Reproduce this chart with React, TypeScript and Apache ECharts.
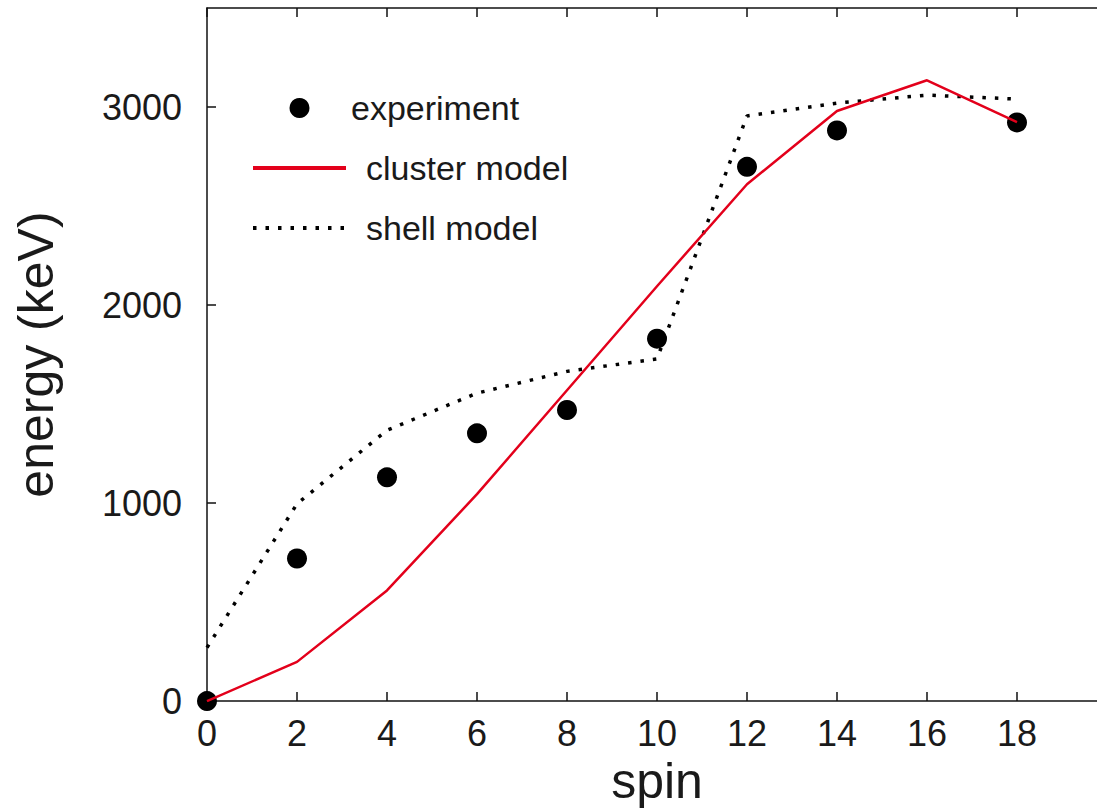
import React, { useEffect, useRef } from "react";
import * as echarts from "echarts";

const spins = [0, 2, 4, 6, 8, 10, 12, 14, 16, 18];
const expSpins = [0, 2, 4, 6, 8, 10, 12, 14, 18];
const expEnergy = [0, 720, 1130, 1352, 1470, 1830, 2698, 2882, 2922];
const clusterEnergy = [0, 198, 559, 1045, 1570, 2095, 2610, 2980, 3135, 2924];
const shellEnergy = [270, 996, 1368, 1555, 1665, 1728, 2955, 3020, 3060, 3040];

const FONT = "'Liberation Sans', Arial, Helvetica, sans-serif";
const TXT = "#1a1a1a";

export default function App() {
  const ref = useRef<HTMLDivElement>(null);
  useEffect(() => {
    if (!ref.current) return;
    const chart = echarts.init(ref.current, undefined, { renderer: "svg" });
    const axisLine = { show: true, onZero: false, lineStyle: { color: "#111", width: 1.5 } };
    const axisTick = { show: true, inside: true, length: 9, lineStyle: { color: "#111", width: 1.5 } };
    chart.setOption({
      animation: false,
      backgroundColor: "#fff",
      textStyle: { fontFamily: FONT },
      grid: { left: 207, top: 8, right: 13, bottom: 108, containLabel: false },
      legend: {
        left: 246,
        top: 86,
        orient: "vertical",
        itemWidth: 93,
        itemHeight: 20,
        itemGap: 26,
        textStyle: { fontFamily: FONT, fontSize: 34, color: TXT },
        data: [
          { name: "experiment" },
          {
            name: "cluster model",
            itemStyle: { opacity: 0 },
            lineStyle: { width: 4 },
            textStyle: { padding: [0, 0, 0, 15] },
          },
          {
            name: "shell model",
            itemStyle: { opacity: 0 },
            lineStyle: { width: 4 },
            textStyle: { padding: [0, 0, 0, 15] },
          },
        ],
      },
      xAxis: [
        {
          type: "value",
          min: 0,
          max: 20,
          interval: 2,
          name: "spin",
          nameLocation: "middle",
          nameGap: 52,
          nameTextStyle: { fontFamily: FONT, fontSize: 50, color: TXT },
          axisLine,
          axisTick,
          splitLine: { show: false },
          axisLabel: { fontFamily: FONT, fontSize: 36, color: TXT, margin: 14, showMaxLabel: false },
        },
        {
          type: "value",
          position: "top",
          min: 0,
          max: 20,
          interval: 2,
          axisLine,
          axisTick,
          splitLine: { show: false },
          axisLabel: { show: false },
        },
      ],
      yAxis: [
        {
          type: "value",
          min: 0,
          max: 3500,
          interval: 1000,
          name: "energy (keV)",
          nameLocation: "middle",
          nameGap: 146,
          nameTextStyle: { fontFamily: FONT, fontSize: 50, color: TXT },
          axisLine,
          axisTick,
          splitLine: { show: false },
          axisLabel: {
            fontFamily: FONT,
            fontSize: 36,
            color: TXT,
            margin: 25,
            showMaxLabel: false,
            formatter: (v: number) => String(v),
          },
        },
      ],
      series: [
        {
          name: "experiment",
          type: "scatter",
          symbol: "circle",
          symbolSize: 20,
          itemStyle: { color: "#000", opacity: 1 },
          z: 1,
          data: expSpins.map((s, i) => [s, expEnergy[i]]),
        },
        {
          name: "cluster model",
          type: "line",
          symbol: "none",
          lineStyle: { color: "#e3001b", width: 2.5 },
          itemStyle: { color: "#e3001b" },
          z: 3,
          data: spins.map((s, i) => [s, clusterEnergy[i]]),
        },
        {
          name: "shell model",
          type: "line",
          symbol: "none",
          lineStyle: { color: "#000", width: 3.5, type: [3.5, 9], cap: "butt" },
          itemStyle: { color: "#000" },
          z: 2,
          data: spins.map((s, i) => [s, shellEnergy[i]]),
        },
      ],
    });
    return () => chart.dispose();
  }, []);
  return (
    <div
      style={{
        position: "fixed",
        left: 0,
        top: 0,
        width: 1097,
        height: 811,
        overflow: "hidden",
        background: "#fff",
      }}
    >
      <div ref={ref} style={{ width: 1120, height: 811 }} />
    </div>
  );
}
